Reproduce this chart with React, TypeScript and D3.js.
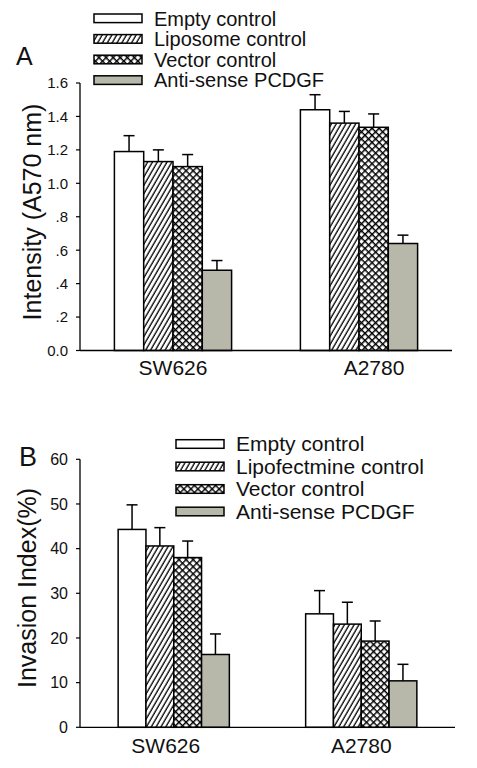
import React from "react";
import * as d3 from "d3";

const groups = ["SW626", "A2780"];
const seriesA = ["Empty control", "Liposome control", "Vector control", "Anti-sense PCDGF"];
const seriesB = ["Empty control", "Lipofectmine control", "Vector control", "Anti-sense PCDGF"];

// Panel A: intensity values [group][series]
const valuesA = [
  [1.19, 1.13, 1.10, 0.48],
  [1.44, 1.36, 1.335, 0.64],
];
const errTopA = [
  [1.285, 1.2, 1.172, 0.538],
  [1.53, 1.43, 1.415, 0.69],
];
const ticksA = [0, 0.2, 0.4, 0.6, 0.8, 1.0, 1.2, 1.4, 1.6];
const tickLabelsA = ["0.0", ".2", ".4", ".6", ".8", "1.0", "1.2", "1.4", "1.6"];

// Panel B: invasion index values
const valuesB = [
  [44.3, 40.6, 38.0, 16.3],
  [25.4, 23.1, 19.3, 10.4],
];
const errTopB = [
  [49.8, 44.7, 41.7, 20.9],
  [30.6, 28.0, 23.8, 14.1],
];
const ticksB = [0, 10, 20, 30, 40, 50, 60];
const tickLabelsB = ["0", "10", "20", "30", "40", "50", "60"];

const fills = ["#ffffff", "url(#hatch)", "url(#cross)", "#b8b8aa"];
const FONT = "Arial, 'Liberation Sans', Helvetica, sans-serif";

type PanelProps = {
  letter: string;
  letterPos: [number, number];
  letterSize: number;
  title: string;
  titlePos: [number, number];
  series: string[];
  values: number[][];
  errTop: number[][];
  ticks: number[];
  tickLabels: string[];
  tickSize: number;
  yDomain: [number, number];
  yRange: [number, number];
  xRange: [number, number];
  barW: number;
  labelY: number;
  labelDx: number[];
  legendX: number;
  legendY0: number;
  legendStep: number;
  legendSize: number;
};

function Panel(p: PanelProps) {
  const y = d3.scaleLinear().domain(p.yDomain).range(p.yRange);
  const x0 = d3.scaleBand<string>().domain(groups).range(p.xRange).padding(0);
  const bw = x0.bandwidth();
  const gw = p.barW * p.series.length;
  const x1 = d3
    .scaleBand<string>()
    .domain(p.series)
    .range([(bw - gw) / 2, (bw + gw) / 2])
    .padding(0);
  const y0 = y(0);
  return (
    <g>
      <text x={p.letterPos[0]} y={p.letterPos[1]} fontSize={p.letterSize} fontFamily={FONT} fill="#111">
        {p.letter}
      </text>
      {/* legend */}
      {p.series.map((s, i) => {
        const cy = p.legendY0 + i * p.legendStep;
        return (
          <g key={s}>
            <rect
              x={p.legendX}
              y={cy - 4.3}
              width={48}
              height={8.6}
              fill={fills[i]}
              stroke="#000"
              strokeWidth={1.5}
            />
            <text x={p.legendX + 60} y={cy + 7.2} fontSize={p.legendSize} fontFamily={FONT} fill="#111">
              {s}
            </text>
          </g>
        );
      })}
      {/* bars */}
      {groups.map((g, gi) => (
        <g key={g} transform={`translate(${x0(g)},0)`}>
          {p.series.map((s, si) => {
            const v = p.values[gi][si];
            const bx = x1(s)!;
            const cx = bx + x1.bandwidth() / 2;
            const e = p.errTop[gi][si];
            return (
              <g key={s}>
                <line x1={cx} x2={cx} y1={y(v)} y2={y(e)} stroke="#000" strokeWidth={1.5} />
                <line x1={cx - 5.5} x2={cx + 5.5} y1={y(e)} y2={y(e)} stroke="#000" strokeWidth={1.5} />
                <rect
                  x={bx}
                  y={y(v)}
                  width={x1.bandwidth()}
                  height={y0 - y(v)}
                  fill={fills[si]}
                  stroke="#000"
                  strokeWidth={1.5}
                />
              </g>
            );
          })}
          <text
            x={bw / 2 + p.labelDx[gi]}
            y={p.labelY}
            textAnchor="middle"
            fontSize={21}
            fontFamily={FONT}
            fill="#111"
          >
            {g}
          </text>
        </g>
      ))}
      {/* axes */}
      <line x1={p.xRange[0]} x2={p.xRange[0]} y1={y(p.yDomain[1])} y2={y0} stroke="#000" strokeWidth={1.3} />
      <line x1={p.xRange[0]} x2={p.xRange[1]} y1={y0} y2={y0} stroke="#000" strokeWidth={1.3} />
      {p.ticks.map((t, i) => (
        <g key={t}>
          <line x1={p.xRange[0] - 4} x2={p.xRange[0]} y1={y(t)} y2={y(t)} stroke="#000" strokeWidth={1.2} />
          <text
            x={p.xRange[0] - 12}
            y={y(t)}
            dy="0.36em"
            textAnchor="end"
            fontSize={p.tickSize}
            fontFamily={FONT}
            fill="#111"
          >
            {p.tickLabels[i]}
          </text>
        </g>
      ))}
      <text
        transform={`translate(${p.titlePos[0]},${p.titlePos[1]}) rotate(-90)`}
        textAnchor="middle"
        fontSize={25}
        fontFamily={FONT}
        fill="#111"
      >
        {p.title}
      </text>
    </g>
  );
}

export default function App() {
  return (
    <svg
      width={477}
      height={768}
      style={{ position: "absolute", left: 0, top: 0, display: "block", background: "#fff" }}
    >
      <defs>
        <pattern id="hatch" patternUnits="userSpaceOnUse" width={4.2} height={10} patternTransform="rotate(30)">
          <rect width={4.2} height={10} fill="#fff" />
          <line x1={1} y1={0} x2={1} y2={10} stroke="#000" strokeWidth={1.3} />
        </pattern>
        <pattern id="cross" patternUnits="userSpaceOnUse" width={5} height={5} patternTransform="rotate(45)">
          <rect width={5} height={5} fill="#fff" />
          <line x1={0} y1={0.7} x2={5} y2={0.7} stroke="#000" strokeWidth={1.5} />
          <line x1={0.7} y1={0} x2={0.7} y2={5} stroke="#000" strokeWidth={1.5} />
        </pattern>
      </defs>
      <rect width={477} height={768} fill="#fff" />
      <Panel
        letter="A"
        letterPos={[16, 65]}
        letterSize={25}
        title="Intensity (A570 nm)"
        titlePos={[41, 212]}
        series={seriesA}
        values={valuesA}
        errTop={errTopA}
        ticks={ticksA}
        tickLabels={tickLabelsA}
        tickSize={15}
        yDomain={[0, 1.6]}
        yRange={[350.5, 83]}
        xRange={[80, 452]}
        barW={29.3}
        labelY={375}
        labelDx={[0, 15]}
        legendX={94}
        legendY0={18.3}
        legendStep={20.6}
        legendSize={20}
      />
      <Panel
        letter="B"
        letterPos={[19, 466]}
        letterSize={27}
        title="Invasion Index(%)"
        titlePos={[36, 588]}
        series={seriesB}
        values={valuesB}
        errTop={errTopB}
        ticks={ticksB}
        tickLabels={tickLabelsB}
        tickSize={16}
        yDomain={[0, 60]}
        yRange={[727.3, 459.3]}
        xRange={[80, 455]}
        barW={27.8}
        labelY={753}
        labelDx={[-8, 0]}
        legendX={176}
        legendY0={444}
        legendStep={22.5}
        legendSize={21}
      />
    </svg>
  );
}
